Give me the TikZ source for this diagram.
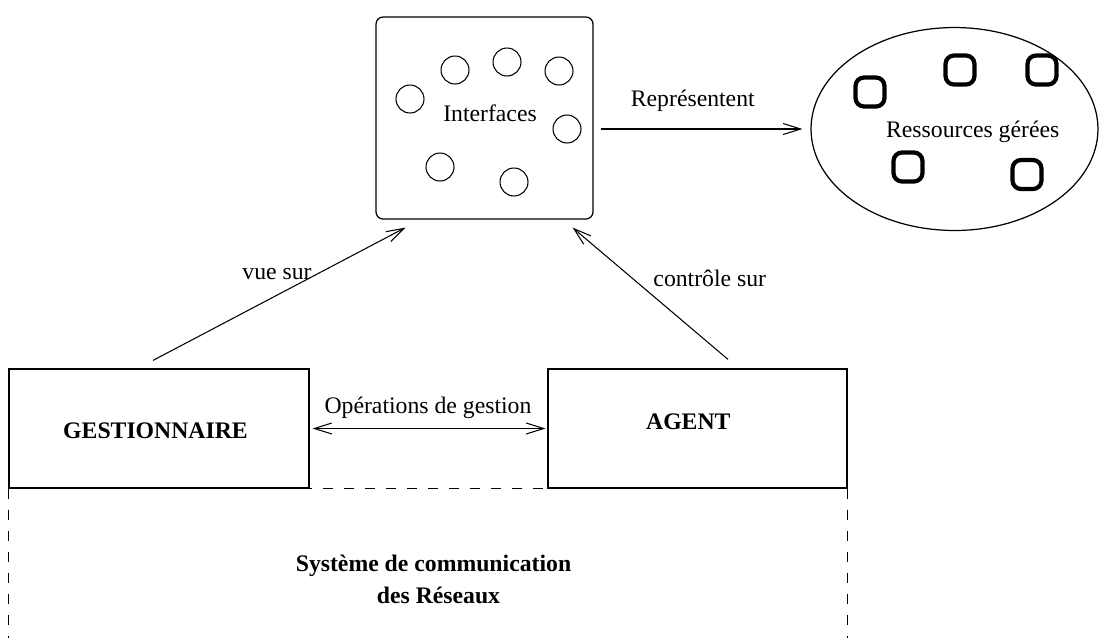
\documentclass[tikz,border=0pt]{standalone}
\usepackage{fontspec}
\setmainfont{Liberation Serif}
\usepackage{tikz}
\usetikzlibrary{positioning,calc,shapes.geometric,arrows.meta}

\begin{document}
\begin{tikzpicture}[x=0.02cm, y=-0.02cm, font=\fontsize{13.5}{16}\selectfont,
        >={Straight Barb[length=3.5mm,width=2.2mm]}]
        \tikzset{
            block/.style={draw, line width=0.7pt, minimum height=2.38cm},
            panel/.style={draw, line width=0.7pt, rounded corners=0.14cm, minimum width=4.34cm, minimum height=4.04cm},
            pool/.style={draw, ellipse, line width=0.7pt, minimum width=5.74cm, minimum height=4.06cm},
            port/.style={draw, circle, line width=0.6pt, minimum size=0.56cm, inner sep=0pt},
            item/.style={draw, line width=2.4pt, rounded corners=0.17cm, minimum size=0.58cm, inner sep=0pt},
            lbl/.style={anchor=base, inner sep=0pt},
            rel/.style={line width=0.6pt},
            sys/.style={line width=0.7pt, dash pattern=on 0.2cm off 0.22cm}
        }
        \useasboundingbox (0,0) rectangle (1117,637);
        % interfaces
        \node[panel] (ifs) at (484.5,118) {};
        \node[port] (p1) at (455,70) {};
        \node[port] (p2) at (507,62) {};
        \node[port] (p3) at (559,71) {};
        \node[port] (p4) at (410,99) {};
        \node[port] (p5) at (567,129) {};
        \node[port] (p6) at (440,167) {};
        \node[port] (p7) at (514,182) {};
        \node[lbl] (ifstxt) at (490,121.7) {Interfaces};
        % managed resources
        \node[pool] (ress) at (954.5,129) {};
        \node[item] (r1) at (870,92) {};
        \node[item] (r2) at (960,70) {};
        \node[item] (r3) at (1042,70) {};
        \node[item] (r4) at (908,167) {};
        \node[item] (r5) at (1027,174.5) {};
        \node[lbl] (resstxt) at (972.7,137.3) {Ressources gérées};
        \draw[rel,->,shorten <=0.14cm,shorten >=0.16cm] (ifs.east |- ress.west) -- (ress.west);
        \node[lbl] (reptxt) at (692.8,106.7) {Représentent};
        % manager and agent
        \node[block, minimum width=6cm] (gest) at (159,428.5) {};
        \node[block, minimum width=5.98cm] (agent) at (697.5,428.5) {};
        \node[lbl] (gesttxt) at (155.5,438.3) {\bfseries GESTIONNAIRE};
        \node[lbl] (agenttxt) at (688.3,429.3) {\bfseries AGENT};
        \draw[rel,<->,shorten <=0.06cm,shorten >=0.04cm] (gest.east) -- (agent.west);
        \node[lbl] (optxt) at (428,413.3) {Opérations de gestion};
        \draw[rel,->] ($(gest.north)+(-6,-8)$) -- ($(ifs.south west)+(30,8)$);
        \node[lbl] (vuetxt) at (277,279.3) {vue sur};
        \draw[rel,->] ($(agent.north)+(30.5,-9)$) -- ($(ifs.south east)+(-21,8)$);
        \node[lbl] (ctltxt) at (709.8,286.7) {contrôle sur};
        % communication system
        \draw[sys] (gest.south west) -- (agent.south east);
        \draw[sys] (gest.south west) -- ++(0,150);
        \draw[sys] (agent.south east) -- ++(0,150);
        \node[lbl] (systxt) at (433.5,571) {\bfseries Système de communication};
        \node[lbl] (restxt) at (438.5,603) {\bfseries des Réseaux};
\end{tikzpicture}
\end{document}
